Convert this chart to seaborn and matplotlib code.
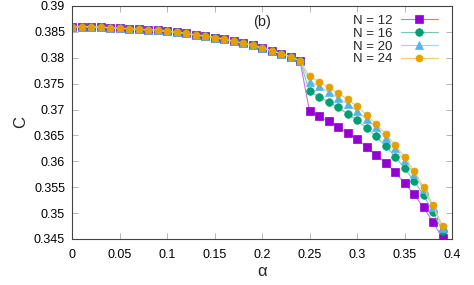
import numpy as np
import pandas as pd
import matplotlib
matplotlib.use("Agg")
import matplotlib.pyplot as plt
import matplotlib.colors as mcolors
import seaborn as sns

# shared branch (all N coincide for alpha <= 0.24)
alpha_low = [0.00, 0.01, 0.02, 0.03, 0.04, 0.05, 0.06, 0.07, 0.08, 0.09,
             0.10, 0.11, 0.12, 0.13, 0.14, 0.15, 0.16, 0.17, 0.18, 0.19,
             0.20, 0.21, 0.22, 0.23, 0.24]
c_low = [0.3860, 0.3860, 0.3860, 0.3859, 0.3858, 0.3857, 0.3856, 0.3855, 0.3854, 0.3853,
         0.3851, 0.3849, 0.3847, 0.3844, 0.3842, 0.3839, 0.3836, 0.3832, 0.3828, 0.3824,
         0.3819, 0.3814, 0.3808, 0.3802, 0.3794]

alpha_high = [0.25, 0.26, 0.27, 0.28, 0.29, 0.30, 0.31, 0.32, 0.33, 0.34,
              0.35, 0.36, 0.37, 0.38, 0.39]
c_n12 = [0.3697, 0.3687, 0.3677, 0.3667, 0.3655, 0.3643, 0.3628, 0.3613, 0.3597, 0.3579,
         0.3558, 0.3536, 0.3511, 0.3483, 0.3451]
c_n16 = [0.3735, 0.3725, 0.3715, 0.3704, 0.3692, 0.3679, 0.3664, 0.3648, 0.3630, 0.3609,
         0.3587, 0.3562, 0.3535, 0.3502, 0.3466]
c_n20 = [0.3754, 0.3745, 0.3734, 0.3722, 0.3711, 0.3697, 0.3682, 0.3666, 0.3646, 0.3625,
         0.3602, 0.3576, 0.3546, 0.3511, 0.3472]
c_n24 = [0.3764, 0.3754, 0.3743, 0.3732, 0.3720, 0.3706, 0.3690, 0.3672, 0.3653, 0.3632,
         0.3608, 0.3581, 0.3551, 0.3516, 0.3475]

labels = ["N = 12", "N = 16", "N = 20", "N = 24"]
colors = ["#9400d3", "#009e73", "#56b4e9", "#e69f00"]
markers = ["s", "o", "^", "o"]
msizes = [5.5, 5.5, 5.5, 5]


def lighten(c, f=0.45):
    r, g, b = mcolors.to_rgb(c)
    return (r + (1 - r) * f, g + (1 - g) * f, b + (1 - b) * f)


sns.set_style("ticks")
plt.rcParams["font.family"] = ["Liberation Sans", "DejaVu Sans"]

fig = plt.figure(figsize=(4.74, 2.85), dpi=100)
ax = fig.add_axes([72 / 474, 46 / 285, 380 / 474, 233 / 285])

for lab, col, mk, ms, hi in zip(labels, colors, markers, msizes,
                                [c_n12, c_n16, c_n20, c_n24]):
    df = pd.DataFrame({"alpha": alpha_low + alpha_high, "C": c_low + hi})
    sns.lineplot(data=df, x="alpha", y="C", ax=ax, color=col, lw=0.8,
                 marker=mk, markersize=ms, markeredgecolor=col,
                 markerfacecolor=col, markeredgewidth=0.5, label=lab,
                 estimator=None, sort=False)

for ln, col in zip(ax.lines, colors):
    ln.set_linestyle("-")
    ln.set_color(lighten(col))
    ln.set_markerfacecolor(col)
    ln.set_markeredgecolor(col)

ax.set_xlim(0, 0.4)
ax.set_ylim(0.345, 0.39)
xt = np.round(np.arange(0, 0.401, 0.05), 3)
yt = np.round(np.arange(0.345, 0.3901, 0.005), 3)
ax.set_xticks(xt)
ax.set_yticks(yt)
ax.set_xticklabels([f"{v:g}" for v in xt])
ax.set_yticklabels([f"{v:g}" for v in yt])
ax.tick_params(direction="in", top=True, right=True, labelsize=9, length=4,
               width=0.5, colors="#999999", labelcolor="black")
ax.tick_params(axis="x", pad=7)
ax.tick_params(axis="y", pad=5)
for s in ax.spines.values():
    s.set_linewidth(0.8)
    s.set_color("#444444")

ax.set_xlabel("α", fontsize=12, labelpad=2)
ax.set_ylabel("C", fontsize=12, labelpad=4)
ax.text(0.2, 0.3869, "(b)", fontsize=10.5, ha="center", va="center")

leg = ax.legend(loc="upper right", frameon=False, markerfirst=False,
                fontsize=9.5, handlelength=2.8, labelspacing=0.05,
                borderaxespad=0.25, handletextpad=0.6,
                bbox_to_anchor=(0.985, 1.0))
for h, col in zip(leg.get_lines(), colors):
    h.set_color(lighten(col))
    h.set_markerfacecolor(col)
    h.set_markeredgecolor(col)

fig.savefig("out.png", dpi=100)
